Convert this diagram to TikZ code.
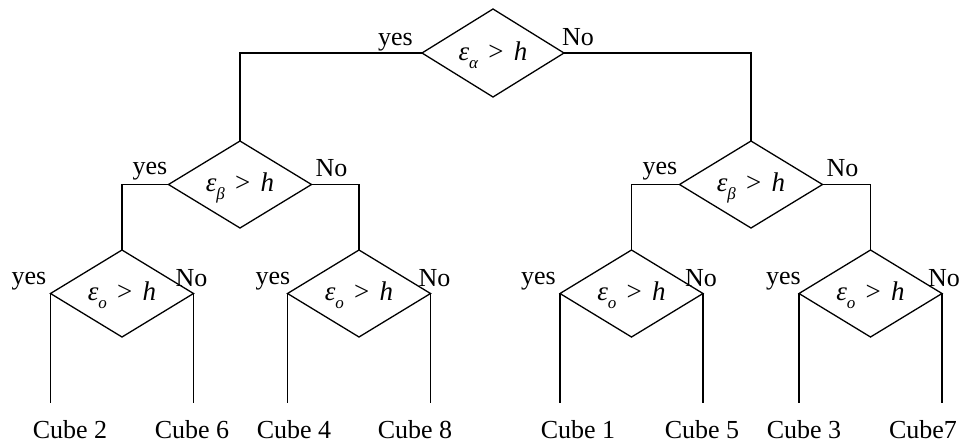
\documentclass[tikz,border=0pt]{standalone}
\usepackage{fontspec}
\setmainfont{Liberation Serif}
\usetikzlibrary{shapes.geometric}
\newcommand\mycond[1]{\makebox[0pt]{\raisebox{-7pt}[0pt][0pt]{\itshape ε\raisebox{-0.3em}{\fontsize{17}{17}\selectfont #1}\hspace{0.38em}\upshape>\hspace{0.38em}\itshape h}}}
\tikzset{
  dec/.style={draw, shape=diamond, minimum width=143pt, minimum height=87pt, inner sep=0pt, outer sep=0pt, line width=1.3pt, font=\fontsize{27}{30}\selectfont},
  lab/.style={inner sep=0pt, font=\fontsize{26}{30}\selectfont},
  wire/.style={line width=1.3pt}
}
\begin{document}
\begin{tikzpicture}[x=1pt,y=-1pt]
\useasboundingbox (0,0) rectangle (965,445);
% decision nodes
\node[dec, minimum width=142pt, minimum height=88pt] (A) at (493,53) {\mycond{α}};
\node[dec] (B1) at (240,184.5) {\mycond{β}};
\node[dec] (B2) at (751,184.5) {\mycond{β}};
\node[dec] (O1) at (122,293.5) {\mycond{o}};
\node[dec] (O2) at (359,293.5) {\mycond{o}};
\node[dec] (O3) at (631.5,293.5) {\mycond{o}};
\node[dec] (O4) at (870.5,293.5) {\mycond{o}};
% yes / No labels
\node[lab, anchor=base east] (Ay) at ([shift={(-9,-8)}]A.west) {yes};
\node[lab, anchor=base west] (An) at ([shift={(-2,-8)}]A.east) {No};
\node[lab, anchor=base east] (B1y) at ([shift={(-1,-10)}]B1.west) {yes};
\node[lab, anchor=base west] (B1n) at ([shift={(4,-8)}]B1.east) {No};
\node[lab, anchor=base east] (B2y) at ([shift={(-2,-10)}]B2.west) {yes};
\node[lab, anchor=base west] (B2n) at ([shift={(4,-8)}]B2.east) {No};
\node[lab, anchor=base east] (O1y) at ([shift={(-4,-9)}]O1.west) {yes};
\node[lab, anchor=base west] (O1n) at ([shift={(-18,-7)}]O1.east) {No};
\node[lab, anchor=base east] (O2y) at ([shift={(3,-9)}]O2.west) {yes};
\node[lab, anchor=base west] (O2n) at ([shift={(-12,-7)}]O2.east) {No};
\node[lab, anchor=base east] (O3y) at ([shift={(-4,-9)}]O3.west) {yes};
\node[lab, anchor=base west] (O3n) at ([shift={(-18,-7)}]O3.east) {No};
\node[lab, anchor=base east] (O4y) at ([shift={(2,-9)}]O4.west) {yes};
\node[lab, anchor=base west] (O4n) at ([shift={(-14,-7)}]O4.east) {No};
% leaves
\node[lab, anchor=base] (c2) at (70,438) {Cube 2};
\node[lab, anchor=base] (c6) at (192,438) {Cube 6};
\node[lab, anchor=base] (c4) at (294,438) {Cube 4};
\node[lab, anchor=base] (c8) at (415,438) {Cube 8};
\node[lab, anchor=base] (c1) at (578,438) {Cube 1};
\node[lab, anchor=base] (c5) at (702,438) {Cube 5};
\node[lab, anchor=base] (c3) at (804,438) {Cube 3};
\node[lab, anchor=base] (c7) at (923,438) {Cube7};
\coordinate (e2) at (O1.west |- 0,403);
\coordinate (e6) at (O1.east |- 0,403);
\coordinate (e4) at (O2.west |- 0,403);
\coordinate (e8) at (O2.east |- 0,403);
\coordinate (e1) at (O3.west |- 0,403);
\coordinate (e5) at (O3.east |- 0,403);
\coordinate (e3) at (O4.west |- 0,403);
\coordinate (e7) at (O4.east |- 0,403);
% connectors
\draw[wire] (A.west) -| (B1.north);
\draw[wire] (A.east) -| (B2.north);
\draw[wire] (B1.west) -| (O1.north);
\draw[wire] (B1.east) -| (O2.north);
\draw[wire] (B2.west) -| (O3.north);
\draw[wire] (B2.east) -| (O4.north);
\draw[wire] (O1.west) -- (e2);
\draw[wire] (O1.east) -- (e6);
\draw[wire] (O2.west) -- (e4);
\draw[wire] (O2.east) -- (e8);
\draw[wire] (O3.west) -- (e1);
\draw[wire] (O3.east) -- (e5);
\draw[wire] (O4.west) -- (e3);
\draw[wire] (O4.east) -- (e7);
\end{tikzpicture}
\end{document}
